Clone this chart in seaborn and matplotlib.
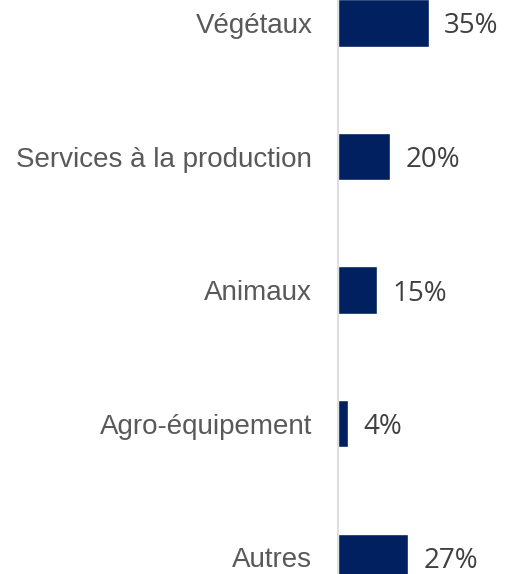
import matplotlib
matplotlib.use("Agg")
import matplotlib.pyplot as plt
import seaborn as sns
import pandas as pd

categories = ["Végétaux", "Services à la production", "Animaux", "Agro-équipement", "Autres"]
values = [35, 20, 15, 4, 27]
value_labels = ["35%", "20%", "15%", "4%", "27%"]

sns.set_style("white")
plt.rcParams['font.family'] = ['Liberation Sans', 'DejaVu Sans']

df = pd.DataFrame({"cat": categories, "val": values})

fig = plt.figure(figsize=(5.08, 5.74), dpi=100)
ax = fig.add_axes([338 / 508, 0, 1 - 338 / 508, 1])

sns.barplot(data=df, y="cat", x="val", orient="h", color="#002060",
            width=0.355, saturation=1, ax=ax)

ax.set_xlim(0, 65.4)
ax.set_ylim(4.125, -0.172)
ax.set_xlabel("")
ax.set_ylabel("")
ax.set_xticks([])
for s in ["top", "right", "bottom"]:
    ax.spines[s].set_visible(False)
ax.spines["left"].set_color("#d9d9d9")
ax.spines["left"].set_linewidth(1.2)
ax.tick_params(axis="y", length=0, pad=18.5, labelsize=20, labelcolor="#595959")

for i, (v, lab) in enumerate(zip(values, value_labels)):
    ax.annotate(lab, xy=(v, i), xytext=(11, 0), textcoords="offset points",
                ha="left", va="center_baseline", fontsize=20,
                color="#404040", family="Open Sans")

fig.savefig("out.png", dpi=100)
